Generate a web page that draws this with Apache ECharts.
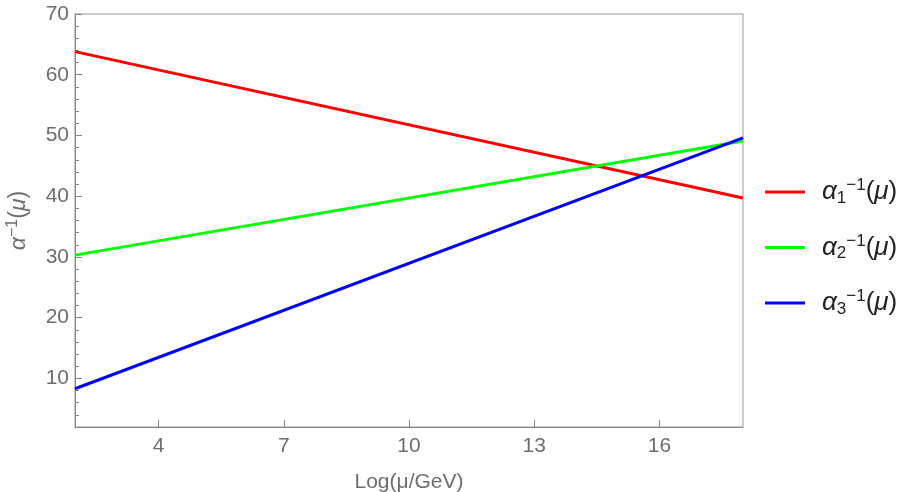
<!DOCTYPE html>
<html>
<head>
<meta charset="utf-8">
<script src="https://cdn.jsdelivr.net/npm/echarts@6/dist/echarts.min.js"></script>
<style>
  html, body { margin: 0; padding: 0; background: #fff; }
  #chart { width: 905px; height: 492px; }
</style>
</head>
<body>
<div id="chart"></div>
<script>
// Log(mu/GeV) at the two ends of the plotted range
const logMu = [2, 18];
const alpha1Inv = [63.8, 39.7];
const alpha2Inv = [30.3, 49.1];
const alpha3Inv = [8.3, 49.6];

const xTicks = [4, 7, 10, 13, 16];
const yTicks = [10, 20, 30, 40, 50, 60, 70];
const yMinorTicks = [4, 6, 8, 12, 14, 16, 18, 22, 24, 26, 28, 32, 34, 36, 38, 42, 44, 46, 48, 52, 54, 56, 58, 62, 64, 66, 68];

const seriesNames = ["a1", "a2", "a3"];
const subs = { a1: "1", a2: "2", a3: "3" };

const grey = "#6e6e6e";
const fontFam = "Liberation Sans, Arial, sans-serif";

const chart = echarts.init(document.getElementById("chart"));

function pairs(ys) {
  return logMu.map((x, i) => [x, ys[i]]);
}

const options = {
  animation: false,
  grid: {
    left: 75, top: 14, right: 162, bottom: 65,
    outerBoundsMode: "none",
    containLabel: false,
    show: true, borderColor: "#999", borderWidth: 1
  },
  legend: {
    orient: "vertical",
    left: 765,
    top: 177,
    padding: 0,
    itemWidth: 40,
    itemHeight: 3,
    itemGap: 26,
    icon: "rect",
    data: seriesNames,
    formatter: function (name) {
      return "{a|α}{sub|" + subs[name] + "}{sup|−1}{p|(}{a|μ}{p|)}";
    },
    textStyle: {
      padding: [0, 0, 0, 12],
      rich: {
        a: { fontFamily: fontFam, fontStyle: "italic", fontSize: 26, color: "#222" },
        p: { fontFamily: fontFam, fontSize: 26, color: "#222" },
        sub: { fontFamily: fontFam, fontSize: 17, color: "#222", padding: [12, 0, 0, 0] },
        sup: { fontFamily: fontFam, fontSize: 17, color: "#222", padding: [0, 0, 13, 0] }
      }
    }
  },
  xAxis: {
    type: "value",
    min: 2,
    max: 18,
    name: "Log(μ/GeV)",
    nameLocation: "middle",
    nameGap: 45,
    nameTextStyle: { fontFamily: fontFam, fontSize: 21, color: grey },
    axisLine: { lineStyle: { color: "#888" } },
    axisTick: { inside: true, length: 7, customValues: xTicks, lineStyle: { color: "#888" } },
    axisLabel: { customValues: xTicks, fontFamily: fontFam, fontSize: 21, color: grey, margin: 9 },
    splitLine: { show: false }
  },
  yAxis: [
    {
      type: "value",
      min: 2,
      max: 70,
      name: "{a|α}{sup|−1}{p|(}{a|μ}{p|)}",
      nameLocation: "middle",
      nameRotate: 90,
      nameGap: 42,
      nameTextStyle: {
        rich: {
          a: { fontFamily: fontFam, fontStyle: "italic", fontSize: 23, color: grey },
          p: { fontFamily: fontFam, fontSize: 23, color: grey },
          sup: { fontFamily: fontFam, fontSize: 16, color: grey, padding: [0, 0, 12, 0] }
        }
      },
      axisLine: { show: true, lineStyle: { color: "#888" } },
      axisTick: { show: true, inside: true, length: 7, customValues: yTicks, lineStyle: { color: "#888" } },
      axisLabel: { customValues: yTicks, fontFamily: fontFam, fontSize: 21, color: grey, margin: 6 },
      splitLine: { show: false }
    },
    {
      type: "value",
      position: "left",
      min: 2,
      max: 70,
      axisLine: { show: false },
      axisTick: { show: true, inside: true, length: 4, customValues: yMinorTicks, lineStyle: { color: "#888" } },
      axisLabel: { show: false },
      splitLine: { show: false }
    }
  ],
  series: [
    { name: "a1", type: "line", data: pairs(alpha1Inv), showSymbol: false, lineStyle: { width: 3, color: "#ff0000" }, itemStyle: { color: "#ff0000" } },
    { name: "a2", type: "line", data: pairs(alpha2Inv), showSymbol: false, lineStyle: { width: 3, color: "#00ff00" }, itemStyle: { color: "#00ff00" } },
    { name: "a3", type: "line", data: pairs(alpha3Inv), showSymbol: false, lineStyle: { width: 3, color: "#0000ff" }, itemStyle: { color: "#0000ff" } }
  ]
};

chart.setOption(options);
</script>
</body>
</html>
